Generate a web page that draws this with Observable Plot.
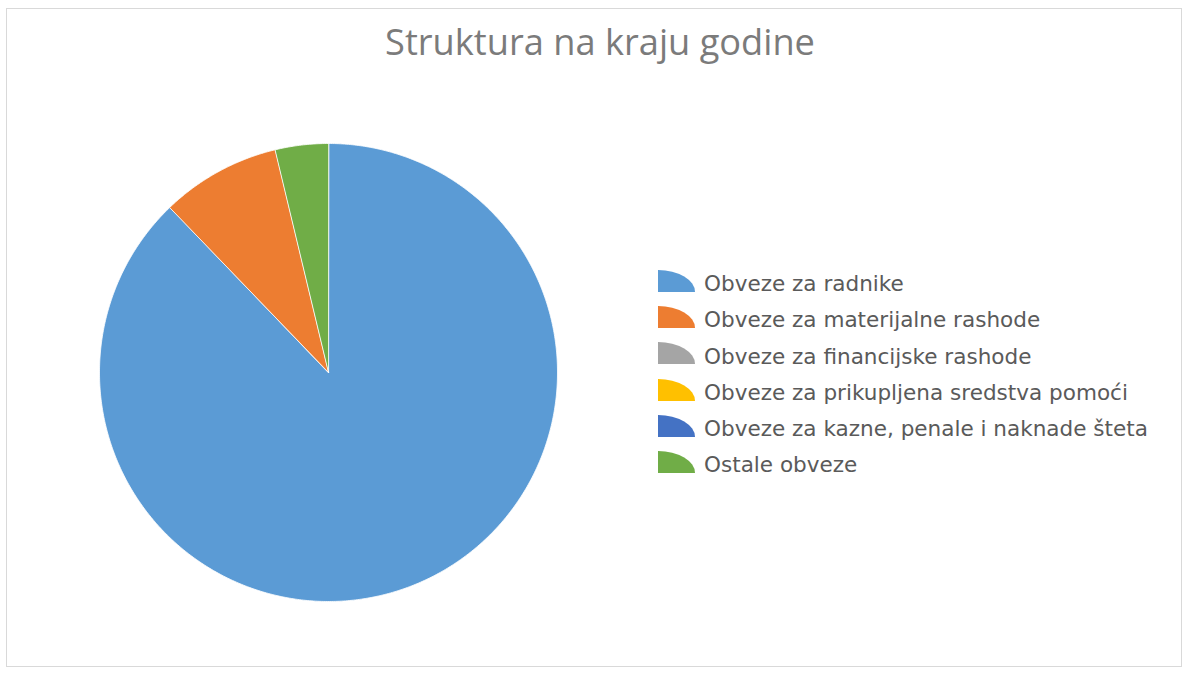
<!DOCTYPE html>
<html>
<head>
<meta charset="utf-8">
<script src="https://cdn.jsdelivr.net/npm/d3@7"></script>
<script src="https://cdn.jsdelivr.net/npm/@observablehq/plot@0.6"></script>
<style>
  html, body { margin: 0; padding: 0; background: #fff; }
  #root { position: relative; width: 1189px; height: 673px; overflow: hidden; }
  #frame { position: absolute; left: 6px; top: 8px; width: 1176px; height: 659px; border: 1px solid #d9d9d9; box-sizing: border-box; }
  #title { position: absolute; left: 0; width: 1200px; text-align: center; color: #7b7b7b; font-family: "Open Sans", sans-serif; white-space: nowrap; }
  #pie { position: absolute; }
  #legend { position: absolute; left: 658px; top: 0; }
  .row { position: absolute; left: 0; white-space: nowrap; }
  .row svg { position: absolute; left: 0; }
  .row span { position: absolute; left: 46px; color: #5a5a5a; font-family: "DejaVu Sans", sans-serif; }
</style>
</head>
<body>
<div id="root">
  <div id="frame"></div>
  <div id="title"></div>
  <div id="pie"></div>
  <div id="legend"></div>
</div>
<script>
// ---- data ----
const titleText = "Struktura na kraju godine";
const categories = [
  "Obveze za radnike",
  "Obveze za materijalne rashode",
  "Obveze za financijske rashode",
  "Obveze za prikupljena sredstva pomoći",
  "Obveze za kazne, penale i naknade šteta",
  "Ostale obveze"
];
const shares = [87.8, 8.45, 0, 0, 0, 3.75];
const colors = ["#5B9BD5", "#ED7D31", "#A5A5A5", "#FFC000", "#4472C4", "#70AD47"];

// ---- geometry helpers ----
const R = 229, cx = 327.5, cy = 372;
const records = categories.map((name, i) => ({name, value: shares[i]}));
const arcs = d3.pie().sort(null).value(d => d.value)(records);
const points = [];
for (const a of arcs) {
  if (a.endAngle - a.startAngle <= 0) continue;
  const n = Math.max(2, Math.ceil((a.endAngle - a.startAngle) / (Math.PI / 360)));
  points.push({name: a.data.name, x: 0, y: 0});
  for (let k = 0; k <= n; k++) {
    const t = a.startAngle + (a.endAngle - a.startAngle) * k / n;
    points.push({name: a.data.name, x: Math.sin(t), y: Math.cos(t)});
  }
}

const pie = Plot.plot({
  width: 2 * R, height: 2 * R, margin: 0,
  x: {domain: [-1, 1], axis: null},
  y: {domain: [-1, 1], axis: null},
  color: {domain: categories, range: colors},
  style: {background: "transparent", overflow: "visible"},
  marks: [
    Plot.line(points, {x: "x", y: "y", z: "name", fill: "name", stroke: "#ffffff", strokeOpacity: 0.8, strokeWidth: 1, curve: "linear-closed"})
  ]
});
const pieDiv = document.getElementById("pie");
pieDiv.style.left = (cx - R) + "px";
pieDiv.style.top = (cy - R) + "px";
pieDiv.appendChild(pie);

// ---- text fitting ----
const ctx = document.createElement("canvas").getContext("2d");
function fitSize(text, family, target) {
  ctx.font = `100px ${family}`;
  return 100 * target / ctx.measureText(text).width;
}

const title = document.getElementById("title");
title.textContent = titleText;
const tSize = fitSize(titleText, '"Open Sans"', 430);
title.style.fontSize = tSize + "px";
title.style.lineHeight = "1";
title.style.left = "0px";
title.style.width = "1200px";
title.style.top = (55 - tSize * 0.888) + "px";

const legend = document.getElementById("legend");
const longest = categories.reduce((a, b) => a.length > b.length ? a : b);
const lSize = fitSize(longest, '"DejaVu Sans"', 444);
categories.forEach((name, i) => {
  const base = 291.5 + i * 36.2;
  const row = document.createElement("div");
  row.className = "row";
  row.style.top = "0px";
  const svg = d3.create("svg").attr("width", 37).attr("height", 22)
    .style("top", (base - 21.5) + "px");
  svg.append("path").attr("d", "M0,22 L0,0 A37,22 0 0 1 37,22 Z").attr("fill", colors[i]);
  row.appendChild(svg.node());
  const span = document.createElement("span");
  span.textContent = name;
  span.style.fontSize = lSize + "px";
  span.style.lineHeight = "1";
  span.style.top = (base - lSize * 0.846) + "px";
  row.appendChild(span);
  legend.appendChild(row);
});
</script>
</body>
</html>
